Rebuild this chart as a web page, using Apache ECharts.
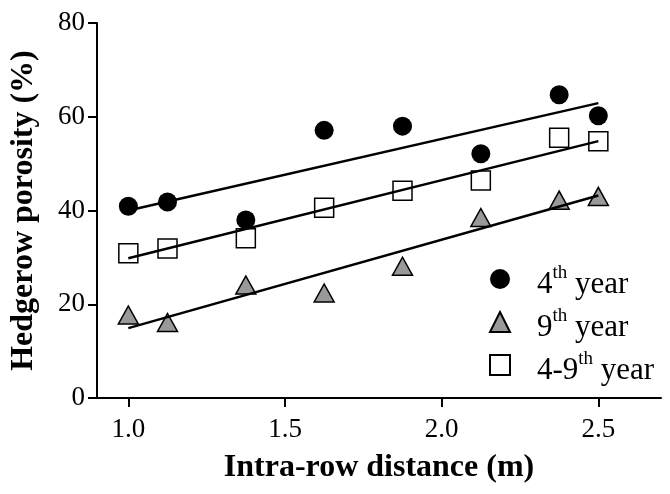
<!DOCTYPE html>
<html>
<head>
<meta charset="utf-8">
<script src="https://cdn.jsdelivr.net/npm/echarts@6/dist/echarts.min.js"></script>
<style>
html,body{margin:0;padding:0;background:#fff;}
#chart{width:670px;height:494px;}
</style>
</head>
<body>
<div id="chart"></div>
<script>
// Data
var distances = [1.0, 1.125, 1.375, 1.625, 1.875, 2.125, 2.375, 2.5];
var year4 = [40.9, 41.8, 38.0, 57.1, 58.0, 52.1, 64.7, 60.2];
var year9 = [17.7, 16.1, 24.1, 22.4, 28.1, 38.5, 42.2, 43.0];
var year49 = [30.9, 31.9, 34.1, 40.6, 44.2, 46.4, 55.5, 54.8];
// Fitted regression line end points
var fitX = [1.0, 2.5];
var fit4 = [40.0, 62.9];
var fit9 = [14.9, 43.2];
var fit49 = [29.8, 54.8];
var xTicks = [1.0, 1.5, 2.0, 2.5];
var seriesNames = ['4th year', '9th year', '4-9th year'];
var legendRich = {'4th year': '{b|4}{s|th}{b| year}', '9th year': '{b|9}{s|th}{b| year}', '4-9th year': '{b|4-9}{s|th}{b| year}'};

function pairs(xs, ys) { return xs.map(function (x, i) { return [x, ys[i]]; }); }

var FONT = 'Liberation Serif, Times New Roman, serif';
var chart = echarts.init(document.getElementById('chart'));
var lineStyle = {color: '#000', width: 2.5};

chart.setOption({
  animation: false,
  backgroundColor: '#fff',
  grid: {left: 97, right: 9, top: 23, bottom: 96, containLabel: false},
  xAxis: {
    type: 'value', min: 0.9, max: 2.7,
    name: 'Intra-row distance (m)', nameLocation: 'middle', nameGap: 54,
    nameTextStyle: {fontFamily: FONT, fontWeight: 'bold', fontSize: 32, color: '#000'},
    axisLine: {show: true, lineStyle: {color: '#000', width: 2}},
    axisTick: {show: true, length: 9, customValues: xTicks, lineStyle: {color: '#000', width: 2}},
    axisLabel: {customValues: xTicks, margin: 18, fontFamily: FONT, fontSize: 27, color: '#000',
      formatter: function (v) { return Number(v).toFixed(1); }},
    splitLine: {show: false}
  },
  yAxis: {
    type: 'value', min: 0, max: 80, interval: 20,
    name: 'Hedgerow porosity (%)', nameLocation: 'middle', nameGap: 57,
    nameTextStyle: {fontFamily: FONT, fontWeight: 'bold', fontSize: 32, color: '#000'},
    axisLine: {show: true, lineStyle: {color: '#000', width: 2}},
    axisTick: {show: true, length: 9, lineStyle: {color: '#000', width: 2}},
    axisLabel: {margin: 12, fontFamily: FONT, fontSize: 27, color: '#000'},
    splitLine: {show: false}
  },
  legend: {
    data: seriesNames, orient: 'vertical', left: 484, top: 259,
    itemWidth: 20, itemHeight: 20, itemGap: 7,
    formatter: function (n) { return legendRich[n]; },
    textStyle: {fontFamily: FONT, fontSize: 31, color: '#000', padding: [6, 0, 0, 22],
      rich: {
        b: {fontFamily: FONT, fontSize: 31, color: '#000', lineHeight: 36, verticalAlign: 'bottom'},
        s: {fontFamily: FONT, fontSize: 19, color: '#000', lineHeight: 6, verticalAlign: 'top'}
      }}
  },
  series: [
    {name: seriesNames[0], type: 'scatter', symbol: 'circle', symbolSize: 19,
      itemStyle: {color: '#000', opacity: 1}, data: pairs(distances, year4), z: 2},
    {name: seriesNames[1], type: 'scatter', symbol: 'triangle', symbolSize: [20, 18],
      itemStyle: {color: '#999999', borderColor: '#000', borderWidth: 1.5, opacity: 1}, data: pairs(distances, year9), z: 2},
    {name: seriesNames[2], type: 'scatter', symbol: 'rect', symbolSize: 19,
      itemStyle: {color: '#fff', borderColor: '#000', borderWidth: 1.5, opacity: 1}, data: pairs(distances, year49), z: 2},
    {name: 'fit4', type: 'line', showSymbol: false, symbol: 'none', lineStyle: lineStyle, data: pairs(fitX, fit4), z: 3, silent: true},
    {name: 'fit9', type: 'line', showSymbol: false, symbol: 'none', lineStyle: lineStyle, data: pairs(fitX, fit9), z: 3, silent: true},
    {name: 'fit49', type: 'line', showSymbol: false, symbol: 'none', lineStyle: lineStyle, data: pairs(fitX, fit49), z: 3, silent: true}
  ]
});
</script>
</body>
</html>
